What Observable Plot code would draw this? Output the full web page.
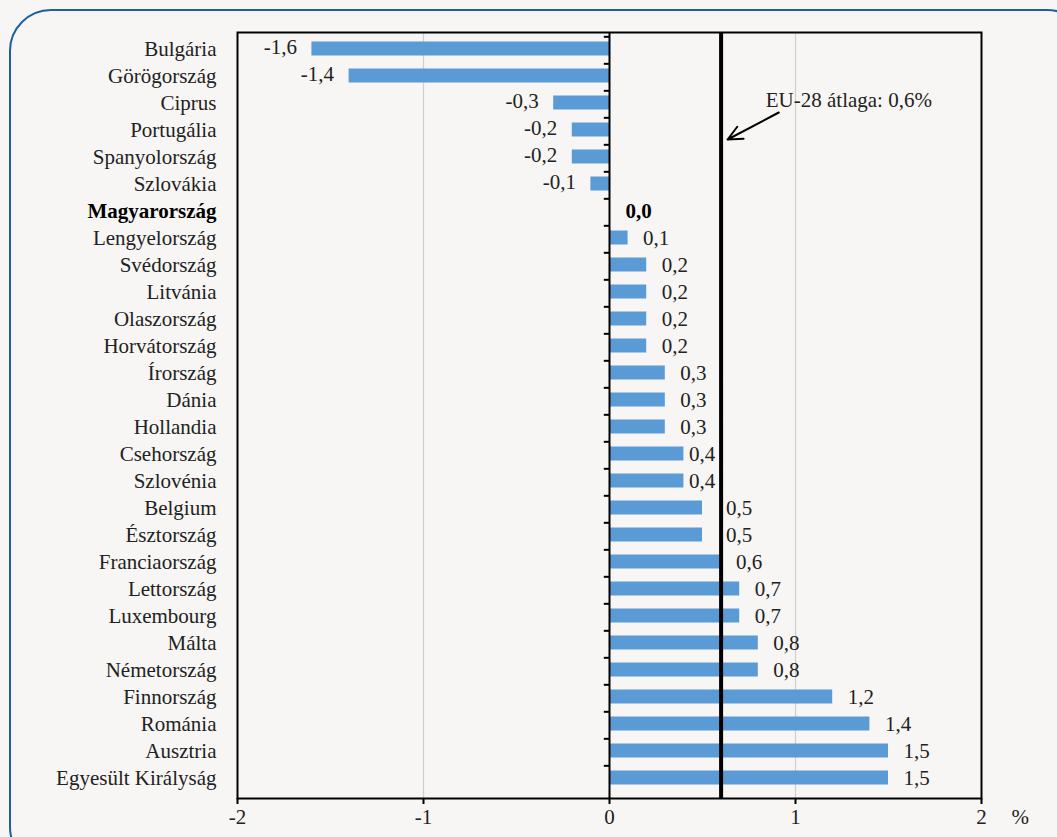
<!DOCTYPE html>
<html>
<head>
<meta charset="utf-8">
<script src="https://cdn.jsdelivr.net/npm/d3@7"></script>
<script src="https://cdn.jsdelivr.net/npm/@observablehq/plot@0.6"></script>
<style>
  html, body { margin: 0; padding: 0; background: #f7f6f4; }
  #wrap { position: relative; width: 1057px; height: 837px; overflow: hidden; background: #f7f6f4; }
  #border { position: absolute; left: 9px; top: 9px; width: 1080px; height: 860px; border: 2px solid #1f5f9f; border-radius: 42px; box-sizing: border-box; }
  #chart { position: absolute; left: 0; top: 0; }
</style>
</head>
<body>
<div id="wrap"><div id="border"></div><div id="chart"></div></div>
<script>
const countries = ["Bulgária","Görögország","Ciprus","Portugália","Spanyolország","Szlovákia","Magyarország","Lengyelország","Svédország","Litvánia","Olaszország","Horvátország","Írország","Dánia","Hollandia","Csehország","Szlovénia","Belgium","Észtország","Franciaország","Lettország","Luxembourg","Málta","Németország","Finnország","Románia","Ausztria","Egyesült Királyság"];
const values = [-1.6,-1.4,-0.3,-0.2,-0.2,-0.1,0.0,0.1,0.2,0.2,0.2,0.2,0.3,0.3,0.3,0.4,0.4,0.5,0.5,0.6,0.7,0.7,0.8,0.8,1.2,1.4,1.5,1.5];
const highlight = "Magyarország";
const euAverage = 0.6;
const annotationText = "EU-28 átlaga: 0,6%";
const xTicks = [-2,-1,0,1,2];
const gridLines = [-1,1];
const unitLabel = "%";

const data = countries.map((c,i) => ({country: c, value: values[i]}));
const fmt = v => d3.format(".1f")(v).replace(".", ",").replace("−","-");
const FONT = "Liberation Serif, Times New Roman, serif";
const FS = 21;
const W = 1057, H = 837, mLeft = 237, mRight = 76, mTop = 32, mBottom = 39;
const step = (H - mTop - mBottom) / countries.length;

// label placement: keep positive value labels clear of the EU average line
const xs = d3.scaleLinear([-2, 2], [mLeft, W - mRight]);
const labelW = 28, gap = 15, lineX = xs(euAverage);
function labelDx(v) {
  const start = xs(v) + gap, end = start + labelW;
  if (start < lineX + 4 && end > lineX - 4) {
    const left = (lineX - 4 - labelW) - start, right = (lineX + 5) - start;
    return gap + (Math.abs(left) < Math.abs(right) ? left : right);
  }
  return gap;
}
const pos = data.filter(d => d.value > 0).map(d => ({...d, dx: labelDx(d.value)}));

const posMarks = d3.groups(pos, d => d.dx).map(([dx, rows]) =>
  Plot.text(rows, {x: "value", y: "country", text: d => fmt(d.value), textAnchor: "start", dx, dy: -1, fontSize: FS, fill: "#222"}));

const annotation = [{text: annotationText, x: euAverage + 0.24, y: countries[2]}];
const arrowData = [{x1: euAverage + 0.31, y1: countries[2], x2: euAverage + 0.035, y2: countries[3]}];

const plot = Plot.plot({
  width: W,
  height: H,
  marginLeft: mLeft,
  marginRight: mRight,
  marginTop: mTop,
  marginBottom: mBottom,
  style: {background: "transparent", fontFamily: FONT, fontSize: FS + "px", color: "#222"},
  x: {domain: [-2, 2], label: null},
  y: {domain: countries, paddingInner: 0.48, paddingOuter: 0.24, axis: null},
  marks: [
    Plot.ruleX(gridLines, {stroke: "#cfcfcf", strokeWidth: 1.2}),
    Plot.barX(data, {x: "value", y: "country", fill: "#5b9bd5", dy: -1.5}),
    Plot.ruleX([0], {stroke: "#000", strokeWidth: 2}),
    Plot.ruleY(countries, {y: d => d, x1: -0.028, x2: 0, dy: -step/2, stroke: "#000", strokeWidth: 2}),
    Plot.ruleX([euAverage], {stroke: "#000", strokeWidth: 4}),
    Plot.frame({stroke: "#000", strokeWidth: 2}),
    Plot.axisX({ticks: xTicks, tickSize: 6, tickPadding: 5, tickFormat: d => String(d), fontSize: FS, fill: "#222", stroke: "#000", strokeWidth: 2, label: null}),
    Plot.text([unitLabel], {frameAnchor: "bottom-right", textAnchor: "start", lineAnchor: "top", dx: 30, dy: 11, fontSize: FS, fill: "#222"}),
    // country labels
    Plot.text(countries.filter(c => c !== highlight), {y: d => d, text: d => d, frameAnchor: "left", textAnchor: "end", dx: -21, dy: -1.5, fontSize: FS, fill: "#222"}),
    Plot.text([highlight], {y: d => d, text: d => d, frameAnchor: "left", textAnchor: "end", dx: -21, dy: -1.5, fontSize: FS, fontWeight: "bold", fill: "#000"}),
    // value labels
    ...posMarks,
    Plot.text(data.filter(d => d.value < 0), {x: "value", y: "country", text: d => fmt(d.value), textAnchor: "end", dx: -15, dy: -3, fontSize: FS, fill: "#222"}),
    Plot.text(data.filter(d => d.value === 0), {x: "value", y: "country", text: d => fmt(d.value), textAnchor: "start", dx: 16, dy: -1.5, fontSize: FS, fontWeight: "bold", fill: "#000"}),
    // annotation
    Plot.text(annotation, {x: "x", y: "y", text: "text", textAnchor: "start", dy: -4, fontSize: FS, fill: "#222"}),
    Plot.arrow(arrowData, {x1: "x1", y1: "y1", x2: "x2", y2: "y2", dy: 8, stroke: "#000", strokeWidth: 2, headLength: 12, headAngle: 50, bend: 0})
  ]
});
document.getElementById("chart").appendChild(plot);
</script>
</body>
</html>
